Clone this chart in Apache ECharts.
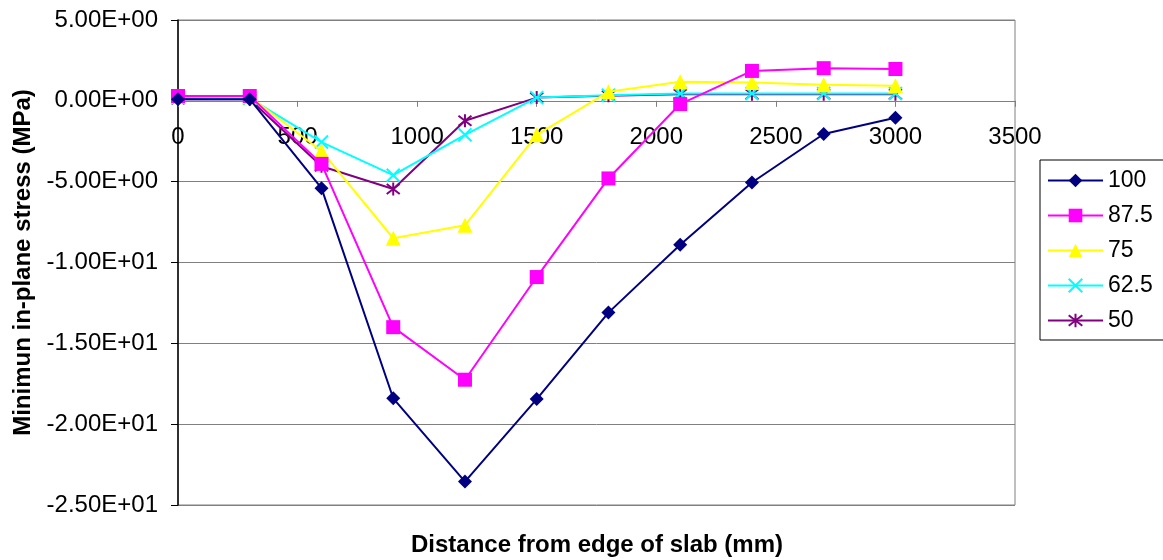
<!DOCTYPE html>
<html>
<head>
<meta charset="utf-8">
<script src="https://cdn.jsdelivr.net/npm/echarts@6/dist/echarts.min.js"></script>
<style>html,body{margin:0;padding:0;background:#fff;}#c{width:1163px;height:560px;}</style>
</head>
<body>
<div id="c"></div>
<script>
const distances = [0, 300, 600, 900, 1200, 1500, 1800, 2100, 2400, 2700, 3000];
const seriesNames = ['100', '87.5', '75', '62.5', '50'];
const s100  = [0.1, 0.1, -5.4, -18.4, -23.55, -18.45, -13.1, -8.9, -5.05, -2.05, -1.05];
const s875  = [0.3, 0.3, -3.9, -14.0, -17.25, -10.9, -4.8, -0.2, 1.85, 2.02, 1.97];
const s75   = [0.3, 0.25, -3.1, -8.5, -7.7, -2.1, 0.56, 1.18, 1.13, 0.99, 0.93];
const s625  = [0.2, 0.15, -2.55, -4.6, -2.1, 0.2, 0.35, 0.45, 0.45, 0.45, 0.45];
const s50   = [0.1, 0.1, -4.05, -5.45, -1.23, 0.2, 0.31, 0.41, 0.41, 0.41, 0.41];
const yTicks = { min: -25, max: 5, interval: 5 };
const xTicks = { min: 0, max: 3500, interval: 500 };

function expFmt(v) {
  if (v === 0) return '0.00E+00';
  let e = Math.floor(Math.log10(Math.abs(v)));
  let m = v / Math.pow(10, e);
  const es = (e < 0 ? '-' : '+') + String(Math.abs(e)).padStart(2, '0');
  return m.toFixed(2) + 'E' + es;
}

const colors = ['#000080', '#FF00FF', '#FFFF00', '#00FFFF', '#800080'];
const allData = [s100, s875, s75, s625, s50];
const symbols = ['diamond', 'rect', 'triangle',
  'path://M0,0L10,10M10,0L0,10',
  'path://M0,0L10,10M10,0L0,10M5,-1.5L5,11.5'];
const sizes = [14, 14, 15, 13, 13];
const FONT = 'Liberation Sans, Arial, sans-serif';

const series = seriesNames.map((n, i) => {
  const stroked = i >= 3;
  return {
    name: n,
    type: 'line',
    data: distances.map((d, j) => [d, allData[i][j]]),
    symbol: symbols[i],
    symbolSize: sizes[i],
    lineStyle: { color: colors[i], width: 2 },
    itemStyle: stroked
      ? { color: 'rgba(0,0,0,0)', borderColor: colors[i], borderWidth: 2 }
      : { color: colors[i], borderWidth: 0 },
    z: 10 - i,
    animation: false
  };
});

const chart = echarts.init(document.getElementById('c'));
chart.setOption({
  animation: false,
  grid: { left: 178, right: 148, top: 20, bottom: 55, show: true, borderColor: '#808080', borderWidth: 1 },
  xAxis: {
    type: 'value', min: xTicks.min, max: xTicks.max, interval: xTicks.interval,
    axisLine: { show: true, onZero: true, lineStyle: { color: '#808080', width: 1 } },
    axisTick: { show: true, inside: false, length: 6, lineStyle: { color: '#808080' } },
    axisLabel: { color: '#000', fontFamily: FONT, fontSize: 24, margin: -380, formatter: v => String(v) },
    splitLine: { show: false }
  },
  yAxis: {
    type: 'value', min: yTicks.min, max: yTicks.max, interval: yTicks.interval,
    name: 'Minimun in-plane stress (MPa)',
    nameLocation: 'middle', nameGap: 143, nameRotate: 90,
    nameTextStyle: { color: '#000', fontFamily: FONT, fontSize: 24, fontWeight: 'bold' },
    axisLine: { show: true, onZero: false, lineStyle: { color: '#000', width: 1.5 } },
    axisTick: { show: true, inside: false, length: 7, lineStyle: { color: '#000' } },
    axisLabel: { color: '#000', fontFamily: FONT, fontSize: 24, margin: 20, formatter: expFmt },
    splitLine: { show: true, lineStyle: { color: '#808080', width: 1 } }
  },
  legend: {
    orient: 'vertical', left: 1040, top: 160,
    data: seriesNames,
    itemWidth: 55, itemHeight: 17, itemGap: 12,
    padding: [9, 40, 8, 7],
    borderColor: '#000', borderWidth: 1,
    textStyle: { color: '#000', fontFamily: FONT, fontSize: 23 }
  },
  graphic: [{
    type: 'text', x: 597, y: 545,
    style: { text: 'Distance from edge of slab (mm)', fill: '#000', font: 'bold 24px "Liberation Sans", Arial',
             align: 'center', verticalAlign: 'middle' }
  }],
  series: series
});
</script>
</body>
</html>
